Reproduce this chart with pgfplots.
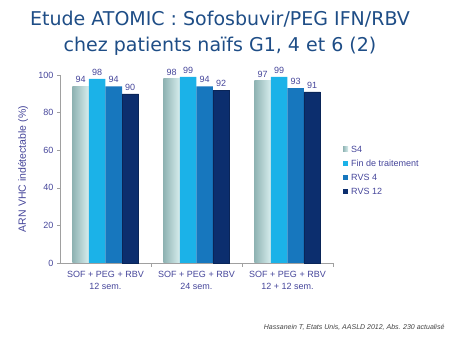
\documentclass[border=0pt]{standalone}
\usepackage{pgfplots}
\pgfplotsset{compat=1.18}
\usepackage{fontspec}
\setmainfont{Liberation Sans}
\newfontfamily\titlefont{DejaVu Sans}
\definecolor{titleblue}{HTML}{1E4D86}
\definecolor{lblue}{HTML}{45459A}
\definecolor{sfourL}{HTML}{8FB3B3}
\definecolor{sfourR}{HTML}{D8EEEE}
\definecolor{fin}{HTML}{1BB2E8}
\definecolor{rvsq}{HTML}{1777BE}
\definecolor{rvsd}{HTML}{0C2E6E}
\definecolor{axgrey}{HTML}{A0A0A0}
\pgfplotstableread{
x s4 fin r4 r12
0 94 98 94 90
1 98 99 94 92
2 97 99 93 91
}\data
\begin{document}
\begin{tikzpicture}
\path[use as bounding box] (0pt,0pt) rectangle (450pt,337pt);
\node[text=titleblue,font=\titlefont\fontsize{19}{26}\selectfont,align=center,anchor=center] at (220pt,304pt) {Etude ATOMIC : Sofosbuvir/PEG IFN/RBV\\chez patients naïfs G1, 4 et 6 (2)};
\begin{axis}[
  at={(60pt,74pt)}, anchor=south west,
  scale only axis, width=273pt, height=188pt,
  ymin=0, ymax=100, xmin=-0.5, xmax=2.5,
  axis x line=bottom, axis y line=left,
  axis line style={axgrey,-},
  ytick={0,20,...,100},
  xtick={0,1,2},
  xticklabels={{SOF + PEG + RBV\\12 sem.},{SOF + PEG + RBV\\24 sem.},{SOF + PEG + RBV\\12 + 12 sem.}},
  xticklabel style={align=center,font=\fontsize{9}{12}\selectfont,text=lblue,yshift=-2pt},
  yticklabel style={font=\fontsize{9}{11}\selectfont,text=lblue},
  /pgf/number format/assume math mode=true,
  x tick style={draw=none},
  y tick style={axgrey},
  tick align=outside, major tick length=3pt,
  extra x ticks={0.5,1.5,2.5}, extra x tick labels={},
  extra x tick style={x tick style={draw=axgrey}, major tick length=4pt},
  ylabel={ARN VHC indétectable (\%)},
  every axis y label/.style={at={(rel axis cs:0,0.5)},xshift=-37pt,rotate=90,anchor=center,
    font=\fontsize{10.5}{12}\selectfont,text=lblue},
  ybar=0pt, bar width=16.5pt,
  nodes near coords,
  every node near coord/.append style={font=\fontsize{9}{10}\selectfont,text=lblue},
  clip=false,
]
\addplot[draw=none, left color=sfourL, right color=sfourR, bar shift=-24.75pt] coordinates {(0,94)};
\addplot[draw=none, left color=sfourL, right color=sfourR, bar shift=-24.75pt] coordinates {(1,98)};
\addplot[draw=none, left color=sfourL, right color=sfourR, bar shift=-24.75pt] coordinates {(2,97)};
\addplot[draw=none, fill=fin, bar shift=-8.25pt] table[x=x,y=fin] {\data};
\addplot[draw=none, fill=rvsq, bar shift=8.25pt] table[x=x,y=r4] {\data};
\addplot[draw=rvsd!80!black, fill=rvsd, bar shift=24.75pt] table[x=x,y=r12] {\data};
\end{axis}
% legend
\begin{scope}[font=\fontsize{9}{11}\selectfont]
\fill[left color=sfourL,right color=sfourR] (343pt,185pt) rectangle (348pt,190pt);
\node[anchor=west,text=lblue,inner sep=0] at (351pt,187.5pt) {S4};
\fill[fin] (343pt,171pt) rectangle (348pt,176pt);
\node[anchor=west,text=lblue,inner sep=0] at (351pt,173.5pt) {Fin de traitement};
\fill[rvsq] (343pt,157pt) rectangle (348pt,162pt);
\node[anchor=west,text=lblue,inner sep=0] at (351pt,159.5pt) {RVS 4};
\fill[rvsd] (343pt,143pt) rectangle (348pt,148pt);
\node[anchor=west,text=lblue,inner sep=0] at (351pt,145.5pt) {RVS 12};
\end{scope}
\node[anchor=east,font=\itshape\fontsize{7}{8}\selectfont,text=black!75] at (448pt,10pt) {Hassanein T, Etats Unis, AASLD 2012, Abs. 230 actualisé};
\end{tikzpicture}
\end{document}
